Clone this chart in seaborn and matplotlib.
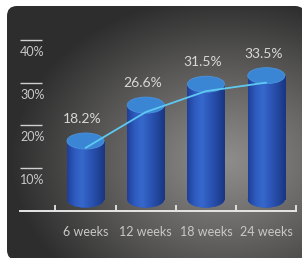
import matplotlib
matplotlib.use("Agg")
import matplotlib.pyplot as plt
import numpy as np
import seaborn as sns
from matplotlib.colors import LinearSegmentedColormap, to_rgb
from matplotlib.patches import Ellipse, FancyBboxPatch

# data
weeks = ["6 weeks", "12 weeks", "18 weeks", "24 weeks"]
rates = [18.2, 26.6, 31.5, 33.5]
value_labels = ["18.2%", "26.6%", "31.5%", "33.5%"]
ytick_vals = [10, 20, 30, 40]
ytick_labels = ["10%", "20%", "30%", "40%"]

W, H = 302, 258
BAR_W = 0.615          # bar width in category units
CAP_H = 3.75           # ellipse height in % units
BASE_C = 2.6           # centre of bottom ellipse
LINE_DROP = 3.5        # trend line sits slightly under the caps
TEXT = "#d8d8d8"
AXIS = "#e6e6e6"

sns.set_style("white")
plt.rcParams["font.family"] = ["Lato", "DejaVu Sans"]

fig = plt.figure(figsize=(W / 100, H / 100), dpi=100)
fig.patch.set_facecolor("white")

# rounded dark panel with radial glow
bg = fig.add_axes([0, 0, 1, 1])
bg.set_xlim(0, W)
bg.set_ylim(H, 0)
bg.axis("off")
yy, xx = np.mgrid[0:H, 0:W]
d = np.sqrt(((xx - 225) / 215.0) ** 2 + ((yy - 160) / 165.0) ** 2)
t = np.clip(d, 0, 1) ** 1.1
inner, outer = np.array(to_rgb("#8f8d8b")), np.array(to_rgb("#2d2d2d"))
img = inner[None, None, :] * (1 - t[..., None]) + outer[None, None, :] * t[..., None]
panel = FancyBboxPatch((7, 6), 298, 254, boxstyle="round,pad=0,rounding_size=10",
                       facecolor="none", edgecolor="none")
bg.add_patch(panel)
im = bg.imshow(img, extent=(0, W, H, 0), aspect="auto", interpolation="bilinear")
im.set_clip_path(panel)

# chart
ax = fig.add_axes([0, 0, 1, 1])
ax.patch.set_alpha(0)
x_idx = np.arange(len(weeks))

sns.barplot(x=weeks, y=rates, width=BAR_W, color="#2c58b8", ax=ax,
            linewidth=0, zorder=3)

bar_cmap = LinearSegmentedColormap.from_list(
    "cyl", ["#1f3f98", "#2e5cc0", "#3668cc", "#2c56b8", "#23479e", "#1a3582"])
grad = np.linspace(0, 1, 64)[None, :]

for patch, val in zip(ax.patches, rates):
    x0, w = patch.get_x(), patch.get_width()
    cx = x0 + w / 2
    top_c = val - CAP_H / 2
    patch.set_y(BASE_C)
    patch.set_height(top_c - BASE_C)
    # rounded bottom
    bottom = Ellipse((cx, BASE_C), w, CAP_H, facecolor="#2c58b8",
                     edgecolor="none", zorder=2)
    ax.add_patch(bottom)
    for clip in (patch, bottom):
        g = ax.imshow(grad, extent=(x0, x0 + w, BASE_C - CAP_H, top_c),
                      aspect="auto", cmap=bar_cmap, zorder=3.5,
                      interpolation="bilinear")
        g.set_clip_path(clip)
    ax.add_patch(Ellipse((cx, top_c), w, CAP_H, facecolor="#3a86d4",
                         edgecolor="#4a93de", linewidth=0.6, zorder=4))

ax.plot(x_idx, np.array(rates) - LINE_DROP, color="#5ec9f0", lw=1.3,
        zorder=6, solid_capstyle="round")

for i, (val, lab) in enumerate(zip(rates, value_labels)):
    ax.text(i - 0.05, val + 3.3, lab, ha="center", va="center",
            color=TEXT, fontsize=10, zorder=7)

# scale: 60.25 px per category, 4.27 px per percent
x_left = -85.5 / 60.25
ax.set_xlim(x_left, x_left + W / 60.25)
y_bot = -(H - 210.7) / 4.27
ax.set_ylim(y_bot, y_bot + H / 4.27)
ax.set_aspect("auto")

axis_start = x_left + 20 / 60.25
for v, lab in zip(ytick_vals, ytick_labels):
    ax.hlines(v, axis_start, axis_start + 22 / 60.25, color="#d0d0d0", lw=1.0)
    ax.text(axis_start, v - 2.8, lab, ha="left", va="center",
            color="#c8c8c8", fontsize=9)

for side in ["top", "right", "left"]:
    ax.spines[side].set_visible(False)
ax.spines["bottom"].set_position(("data", 0))
ax.spines["bottom"].set_bounds(axis_start, len(weeks) - 0.5)
ax.spines["bottom"].set_color(AXIS)
ax.spines["bottom"].set_linewidth(1.4)
ax.spines["bottom"].set_zorder(5)
ax.set_xticks(x_idx)
ax.set_xticklabels(weeks)
ax.set_xticks(np.arange(-0.5, len(weeks)), minor=True)
ax.tick_params(axis="x", which="major", bottom=True, length=0, pad=11,
               labelcolor="#c8c8c8", labelsize=9)
ax.tick_params(axis="x", which="minor", bottom=True, direction="in",
               length=4.5, width=1.3, color=AXIS)
ax.set_yticks([])
ax.set_xlabel("")
ax.set_ylabel("")

fig.savefig("out.png", dpi=100)
